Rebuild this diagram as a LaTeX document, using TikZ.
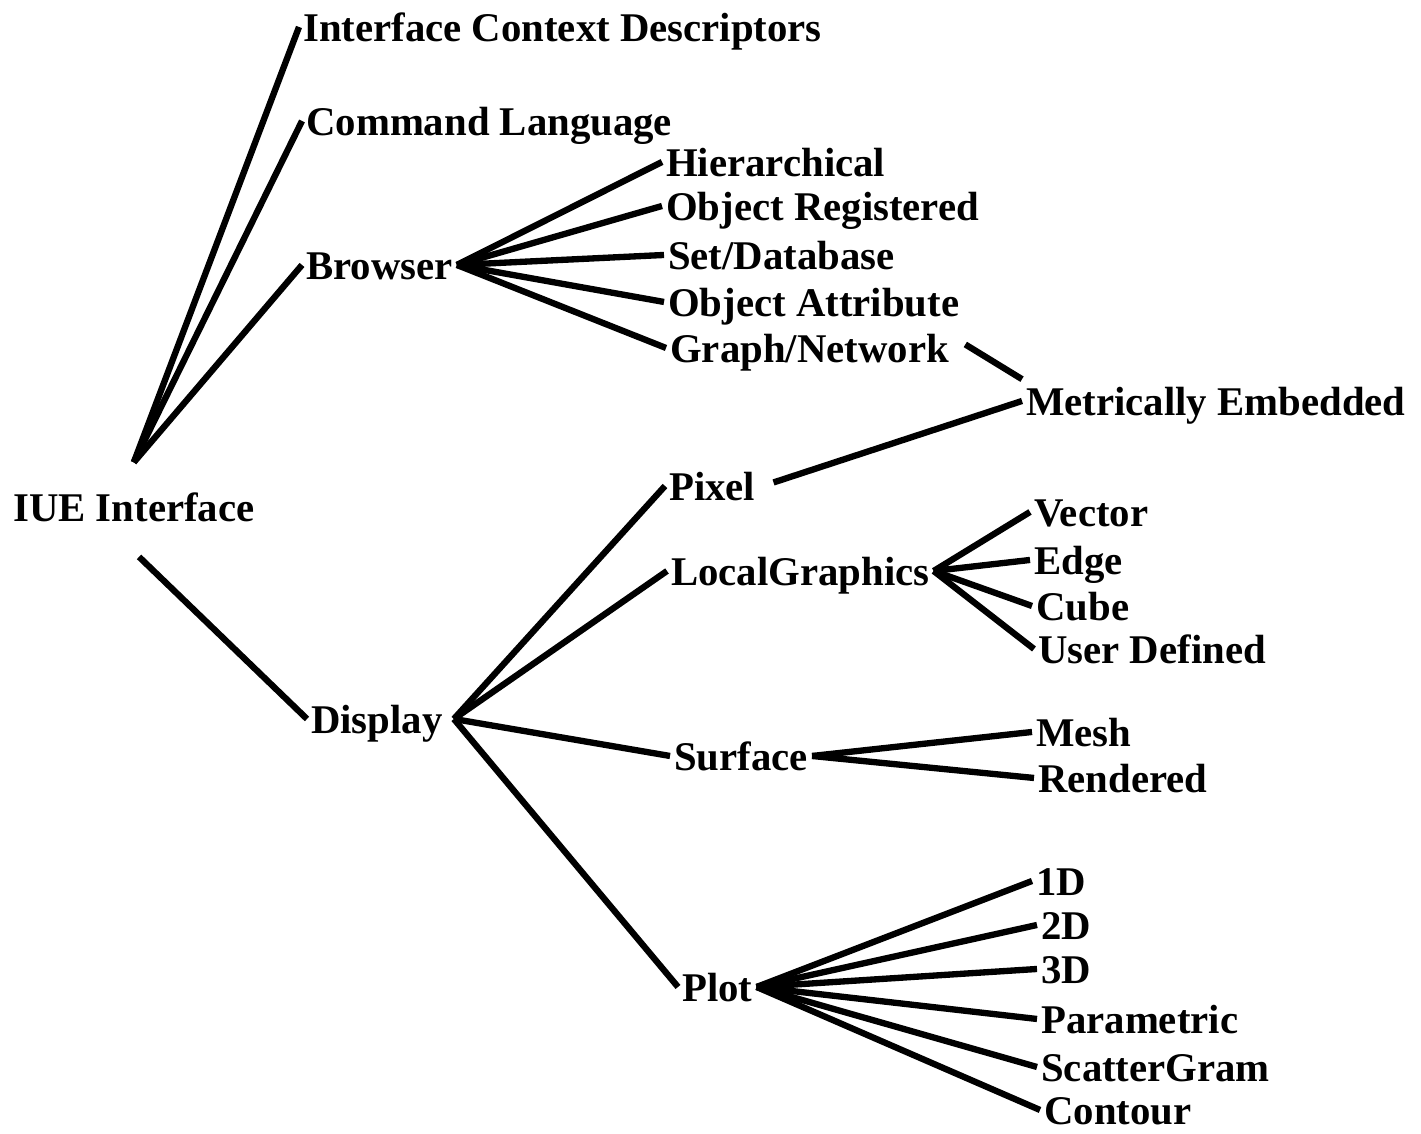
\documentclass[tikz,border=0pt]{standalone}
\usepackage{fontspec}
\setmainfont{Liberation Serif}
\usetikzlibrary{positioning,calc}

\begin{document}
\begin{tikzpicture}[
    item/.style={anchor=base west, inner sep=1pt, text height=9pt, text depth=1pt,
                 font=\fontsize{11.6}{13}\selectfont\bfseries},
    branch/.style={line width=1.8pt}]
    \useasboundingbox (0,0) rectangle (14.21,-11.33);

    % Root
    \node[item] (iue) at (0.09,-5.21) {IUE Interface};
    \coordinate (iuetop) at ([yshift=6.5pt]iue.north);
    \coordinate (iuebot) at ([xshift=1.5pt,yshift=-8pt]iue.south);

    % First level
    \node[item] (icd)     at (2.99,-0.41) {Interface Context Descriptors};
    \node[item] (cmd)     at (3.02,-1.35) {Command Language};
    \node[item] (browser) at (3.02,-2.79) {Browser};
    \node[item] (display) at (3.07,-7.33) {Display};

    % Browser
    \node[item] (hier)    at (6.62,-1.76) {Hierarchical};
    \node[item] (objreg)  at (6.62,-2.20) {Object Registered};
    \node[item] (setdb)   at (6.64,-2.69) {Set/Database};
    \node[item] (objattr) at (6.64,-3.16) {Object Attribute};
    \node[item] (graph)   at (6.66,-3.62) {Graph/Network};
    \node[item] (metric)  at (10.22,-4.15) {Metrically Embedded};

    % Display
    \node[item] (pixel)   at (6.65,-5.00) {Pixel};
    \node[item] (localg)  at (6.67,-5.85) {LocalGraphics};
    \node[item] (surface) at (6.70,-7.70) {Surface};
    \node[item] (plot)    at (6.78,-10.01) {Plot};

    % LocalGraphics
    \node[item] (vector)  at (10.30,-5.26) {Vector};
    \node[item] (edge)    at (10.30,-5.74) {Edge};
    \node[item] (cube)    at (10.32,-6.20) {Cube};
    \node[item] (user)    at (10.34,-6.63) {User Defined};

    % Surface
    \node[item] (mesh)     at (10.32,-7.46) {Mesh};
    \node[item] (rendered) at (10.34,-7.92) {Rendered};

    % Plot
    \node[item] (d1)      at (10.32,-8.95) {1D};
    \node[item] (d2)      at (10.37,-9.39) {2D};
    \node[item] (d3)      at (10.37,-9.83) {3D};
    \node[item] (param)   at (10.37,-10.33) {Parametric};
    \node[item] (scatter) at (10.37,-10.81) {ScatterGram};
    \node[item] (contour) at (10.40,-11.24) {Contour};

    % Branches
    \foreach \kid in {icd, cmd, browser} {
        \draw[branch] (iuetop) -- (\kid.west);
    }
    \draw[branch] (iuebot) -- (display.west);

    \foreach \kid in {hier, objreg, setdb, objattr, graph} {
        \draw[branch] (browser.east) -- (\kid.west);
    }
    \draw[branch] ([xshift=3.5pt,yshift=1pt]graph.east) -- (metric.north west);
    \draw[branch] ([xshift=4pt,yshift=1pt]pixel.east) -- (metric.west);

    \foreach \kid in {pixel, localg, surface, plot} {
        \draw[branch] ([xshift=2pt]display.east) -- (\kid.west);
    }
    \foreach \kid in {vector, edge, cube, user} {
        \draw[branch] (localg.east) -- (\kid.west);
    }
    \foreach \kid in {mesh, rendered} {
        \draw[branch] (surface.east) -- (\kid.west);
    }
    \foreach \kid in {d1, d2, d3, param, scatter, contour} {
        \draw[branch] (plot.east) -- (\kid.west);
    }

\end{tikzpicture}
\end{document}
